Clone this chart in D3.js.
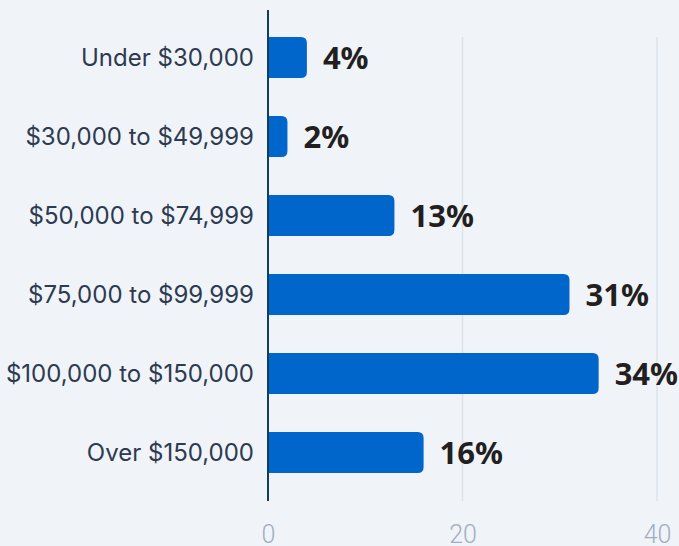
<!DOCTYPE html>
<meta charset="utf-8">
<style>
    body { margin: 0; background: #f0f4f9; }
    svg { display: block; }
    .cat { font: 24px Inter, sans-serif; fill: #2d3a4f; }
    .val { font: bold 31px "Noto Sans", sans-serif; fill: #231f20; }
    .tick text { font: 300 25px Roboto, sans-serif; fill: #a0aec0; }
</style>
<svg id="chart" width="679" height="546"></svg>
<script src="https://cdn.jsdelivr.net/npm/d3@7/dist/d3.min.js"></script>
<script>

    var categories = ["Under $30,000", "$30,000 to $49,999", "$50,000 to $74,999",
        "$75,000 to $99,999", "$100,000 to $150,000", "Over $150,000"];
    var values = [4, 2, 13, 31, 34, 16];
    var tickValues = [0, 20, 40];

    var svg = d3.select("#chart");
    var left = 268;

    var x = d3.scaleLinear().domain([0, 40]).range([left, 657]);
    var y = d3.scaleBand()
        .domain(categories)
        .range([18, 492])
        .paddingInner(0.48)
        .paddingOuter(0.24);

    // gridlines
    svg.append("g").selectAll("line")
        .data(tickValues.filter(function(d) { return d > 0; }))
        .enter().append("line")
        .attr("x1", function(d) { return x(d); })
        .attr("x2", function(d) { return x(d); })
        .attr("y1", 37)
        .attr("y2", 501)
        .attr("stroke", "#dde3ea")
        .attr("stroke-width", 1.5);

    // bars with rounded right end
    var r = 6;
    svg.append("g").selectAll("path")
        .data(values)
        .enter().append("path")
        .attr("fill", "#0066cc")
        .attr("d", function(d, i) {
            var x0 = x(0), x1 = x(d), y0 = y(categories[i]), h = y.bandwidth();
            var rr = Math.min(r, x1 - x0);
            return "M" + x0 + "," + y0 +
                "H" + (x1 - rr) +
                "Q" + x1 + "," + y0 + " " + x1 + "," + (y0 + rr) +
                "V" + (y0 + h - rr) +
                "Q" + x1 + "," + (y0 + h) + " " + (x1 - rr) + "," + (y0 + h) +
                "H" + x0 + "Z";
        });

    // value labels
    svg.append("g").selectAll("text")
        .data(values)
        .enter().append("text")
        .attr("class", "val")
        .attr("x", function(d) { return x(d) + 16; })
        .attr("y", function(d, i) { return y(categories[i]) + y.bandwidth() / 2; })
        .attr("dy", "0.36em")
        .text(function(d) { return d + "%"; });

    // category labels
    svg.append("g").selectAll("text")
        .data(categories)
        .enter().append("text")
        .attr("class", "cat")
        .attr("x", left - 14)
        .attr("y", function(d) { return y(d) + y.bandwidth() / 2; })
        .attr("dy", "0.36em")
        .attr("text-anchor", "end")
        .text(function(d) { return d; });

    // y axis line
    svg.append("line")
        .attr("x1", left).attr("x2", left)
        .attr("y1", 10).attr("y2", 501)
        .attr("stroke", "#123d5e")
        .attr("stroke-width", 2);

    // x axis ticks
    var xAxis = d3.axisBottom(x).tickValues(tickValues).tickSize(0).tickPadding(0);
    var gX = svg.append("g")
        .attr("transform", "translate(0,520)")
        .call(xAxis);
    gX.select(".domain").remove();
    gX.selectAll("text").attr("dy", "0.9em");

</script>
